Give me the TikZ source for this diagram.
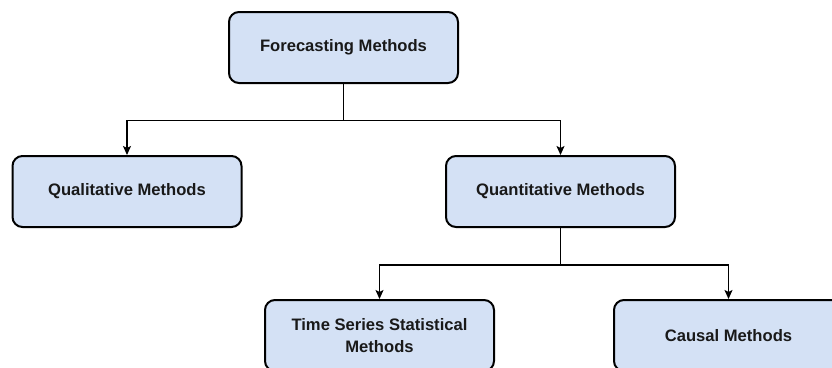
\documentclass[tikz,border=0pt]{standalone}
\usepackage{fontspec}
\setmainfont{Liberation Sans}
\usetikzlibrary{arrows.meta}
\definecolor{boxfill}{HTML}{D4E1F5}
\begin{document}
\begin{tikzpicture}[x=1pt,y=-1pt,
  mbox/.style={draw=black, line width=2pt, fill=boxfill, rounded corners=10pt,
    minimum width=229pt, minimum height=71pt, inner sep=0pt, align=center,
    font=\fontsize{16.6}{21.7}\selectfont\bfseries, text=black!90},
  conn/.style={draw=black, line width=1.2pt, -{Stealth[length=9pt,width=8pt,inset=2pt]}}]
\useasboundingbox (0,0) rectangle (832,367);
\node[mbox] (fm) at (343.5,47.5) {Forecasting Methods};
\node[mbox] (ql) at (127,191.5) {Qualitative Methods};
\node[mbox] (qn) at (560.5,191.5) {Quantitative Methods};
\node[mbox] (ts) at (379.5,335.5) {Time Series Statistical\\Methods};
\node[mbox] (cm) at (728.5,335.5) {Causal Methods};
\coordinate (j1) at ([yshift=-36.5pt]fm.south);
\coordinate (j2) at ([yshift=-37pt]qn.south);
\draw[line width=1.2pt] (fm.south) -- (j1);
\draw[conn] (j1) -| (ql.north);
\draw[conn] (j1) -| (qn.north);
\draw[line width=1.2pt] (qn.south) -- (j2);
\draw[conn] (j2) -| (ts.north);
\draw[conn] (j2) -| (cm.north);
\end{tikzpicture}
\end{document}
